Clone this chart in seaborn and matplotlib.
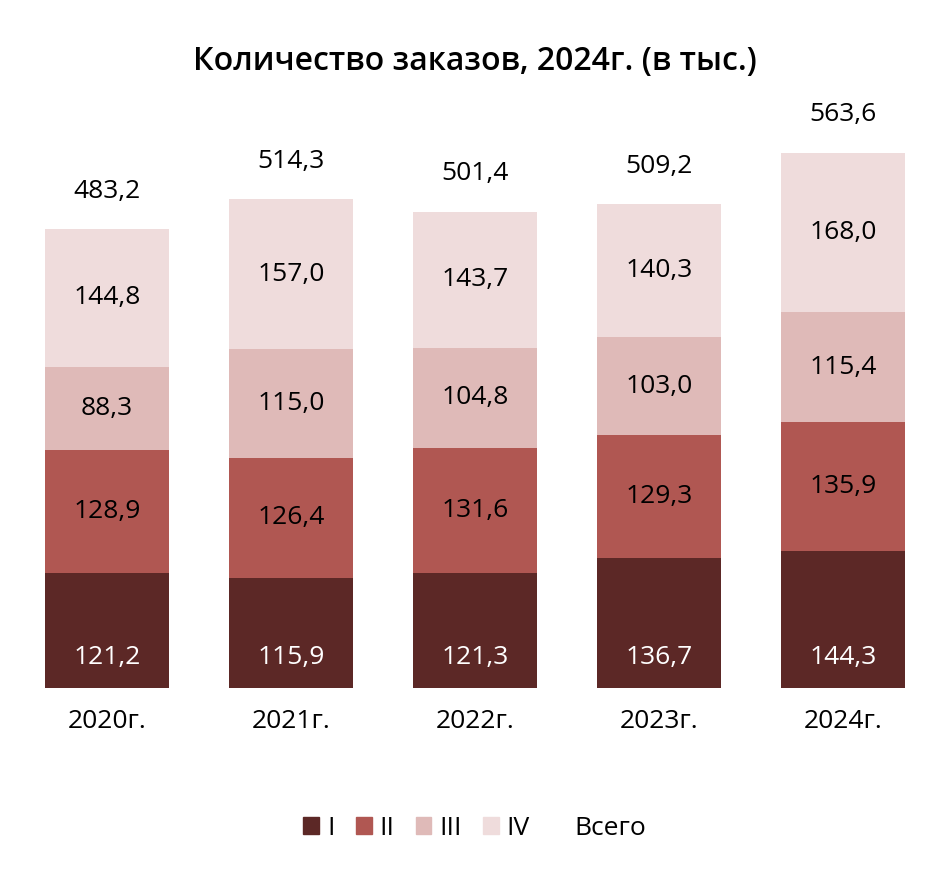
import matplotlib
matplotlib.use("Agg")
import matplotlib.pyplot as plt
import matplotlib.patches as mpatches
import seaborn as sns
import numpy as np
import pandas as pd

years = ["2020г.", "2021г.", "2022г.", "2023г.", "2024г."]
q1 = [121.2, 115.9, 121.3, 136.7, 144.3]
q2 = [128.9, 126.4, 131.6, 129.3, 135.9]
q3 = [88.3, 115.0, 104.8, 103.0, 115.4]
q4 = [144.8, 157.0, 143.7, 140.3, 168.0]
totals = [483.2, 514.3, 501.4, 509.2, 563.6]
series_names = ["I", "II", "III", "IV"]
total_name = "Всего"
colors = ["#5c2826", "#b05752", "#dfbab8", "#efdcdc"]

sns.set_style("white")
plt.rcParams['font.family'] = ['Open Sans', 'DejaVu Sans']
plt.rcParams['text.color'] = 'black'
plt.rcParams['xtick.color'] = 'black'

series = [q1, q2, q3, q4]
cum = np.cumsum(np.array(series), axis=0)

fig = plt.figure(figsize=(9.5, 8.72), dpi=100)
ax = fig.add_axes([0, 1 - 688 / 872, 1, 588 / 872])

# stacked bars: draw cumulative heights from the top down
for i in range(len(series) - 1, -1, -1):
    df = pd.DataFrame({"year": years, "value": cum[i]})
    sns.barplot(data=df, x="year", y="value", color=colors[i], width=0.674,
                saturation=1, ax=ax, linewidth=0, err_kws={"linewidth": 0})

# segment labels
for j in range(len(years)):
    for i in range(len(series)):
        val = series[i][j]
        base = cum[i][j] - val
        if i == 0:
            y = 32
            col = "white"
        else:
            y = base + val / 2
            col = "black"
        ax.text(j, y, f"{val:.1f}".replace(".", ","), ha="center", va="center",
                fontsize=19, color=col)
    ax.text(j, cum[-1][j] + 40, f"{totals[j]:.1f}".replace(".", ","), ha="center",
            va="center", fontsize=19, color="black")

ax.set_xlim(-0.5815, 4.5815)
ax.set_ylim(0, 619)
ax.set_xlabel("")
ax.set_ylabel("")
ax.set_yticks([])
ax.tick_params(axis="x", length=0, pad=15, labelsize=19)
sns.despine(ax=ax, left=True, bottom=True)

handles = [mpatches.Patch(color=c, label=n) for c, n in zip(colors, series_names)]
handles.append(mpatches.Patch(color="none", label=total_name))
fig.legend(handles=handles, loc="center", bbox_to_anchor=(0.5, 1 - 828 / 872),
           ncol=5, frameon=False, fontsize=19, handlelength=0.6, handleheight=0.6,
           handletextpad=0.3, columnspacing=0.8)

fig.suptitle("Количество заказов, 2024г. (в тыс.)", y=1 - 45 / 872, fontsize=23,
             fontweight="semibold", color="black")

fig.savefig("out.png", dpi=100)
